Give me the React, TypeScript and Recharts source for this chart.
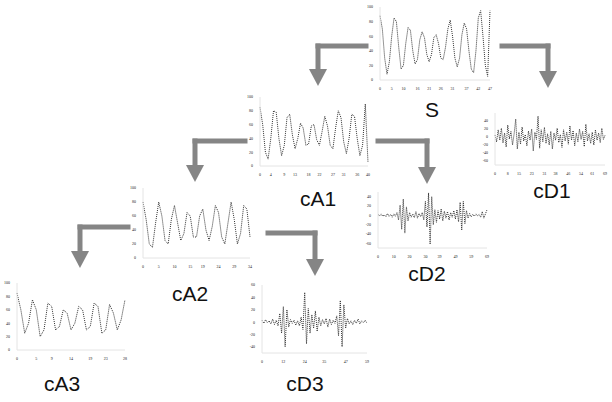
import { LineChart, Line, XAxis, YAxis } from "recharts";

// signal values read off the thumbnails (rough, picture is blurry)
const sSignal = [88, 70, 30, 8, 25, 60, 85, 80, 45, 15, 20, 50, 72, 68, 40, 22, 28, 55, 66, 58, 35, 25, 35, 58, 62, 50, 30, 28, 45, 70, 82, 60, 30, 18, 30, 62, 78, 70, 40, 15, 10, 40, 85, 95, 60, 20, 5, 95];
const cA1Signal = [85, 60, 20, 10, 40, 80, 78, 40, 15, 30, 70, 75, 45, 25, 40, 62, 55, 30, 32, 58, 60, 38, 30, 50, 72, 58, 30, 25, 55, 80, 70, 35, 18, 40, 75, 72, 40, 15, 30, 90, 5];
const cA2Signal = [80, 55, 20, 15, 50, 80, 60, 25, 20, 55, 75, 50, 25, 35, 65, 60, 30, 30, 60, 70, 40, 25, 45, 75, 65, 30, 20, 50, 80, 55, 20, 35, 75, 70, 30];
const cA3Signal = [85, 60, 25, 40, 75, 60, 20, 30, 70, 65, 30, 35, 60, 55, 30, 40, 65, 60, 30, 35, 70, 65, 25, 30, 68, 55, 30, 45, 75];
const cD1Signal = [5, -12, 18, -8, 22, -15, 10, -25, 30, -5, 14, -20, 8, 45, -30, 12, -18, 25, -10, 6, -22, 15, -8, 20, -35, 12, -6, 52, -28, 18, -12, 24, -16, 8, -20, 14, -30, 10, -8, 22, -14, 6, -26, 18, -10, 12, -18, 28, -8, 16, -22, 10, -12, 20, -6, 14, -24, 32, -10, 8, -16, 12, -20, 18, -8, 10, -14, 22, -6, 4];
const cD2Signal = [2, -1, 3, -2, 1, -3, 4, -2, 2, -4, 3, -2, 6, -10, 22, -30, 35, -38, 18, -12, 6, -4, 3, -5, 8, -6, 4, -3, 6, -10, 30, -25, 48, -62, 40, -20, 12, -15, 10, -8, 14, -12, 9, -6, 8, -10, 6, -4, 10, -8, 12, -14, 28, -32, 30, -18, 10, -6, 4, -3, 2, -2, 3, -1, 2, -4, 8, -6, 3, 12];
const cD3Signal = [3, -2, 4, -1, 2, -3, 5, -4, 3, -6, 14, -18, 25, -40, 20, -8, 4, -2, 3, -5, 2, -6, 8, -12, 48, -35, 22, -18, 12, -10, 18, -15, 8, -6, 4, -3, 6, -8, 5, -4, 3, -2, 10, -22, 35, -40, 28, -10, 6, -3, 2, -4, 3, -2, 5, -3, 2, -1, 3, -2];

const approxTicks = [0, 20, 40, 60, 80, 100];
const detailTicks1 = [-60, -40, -20, 0, 20, 40];
const detailTicks2 = [-60, -40, -20, 0, 20, 40];
const detailTicks3 = [-40, -20, 0, 20, 40, 60];

const Y_W = 14;
const TOP = 6;
const RIGHT = 6;
const X_H = 11;

interface MiniProps {
  values: number[];
  px: number;
  py: number;
  pw: number;
  ph: number;
  domain: [number, number];
  yTicks: number[];
  xCount: number;
}

function Mini({ values, px, py, pw, ph, domain, yTicks, xCount }: MiniProps) {
  const data = values.map((v, i) => ({ i, v }));
  const n = values.length - 1;
  // evenly spaced x ticks, like the little dots under each plot
  const xTicks = Array.from({ length: xCount }, (_, k) => Math.round((k * n) / (xCount - 1)));
  return (
    <div style={{ position: "absolute", left: px - Y_W, top: py - TOP }}>
      <LineChart
        width={pw + Y_W + RIGHT}
        height={ph + TOP + X_H}
        data={data}
        margin={{ top: TOP, right: RIGHT, left: 0, bottom: 0 }}
      >
        <XAxis
          dataKey="i"
          type="number"
          domain={[0, n]}
          ticks={xTicks}
          height={X_H}
          tick={{ fontSize: 4, fill: "#222" }}
          tickMargin={1}
          tickLine={false}
          axisLine={{ stroke: "#e4e4e4" }}
          interval={0}
        />
        <YAxis
          domain={domain}
          ticks={yTicks}
          width={Y_W}
          tick={{ fontSize: 4, fill: "#222" }}
          tickMargin={1}
          tickLine={false}
          axisLine={{ stroke: "#e4e4e4" }}
          interval={0}
        />
        <Line
          dataKey="v"
          type="linear"
          stroke="#333"
          strokeWidth={1}
          strokeDasharray="1 1"
          dot={false}
          isAnimationActive={false}
        />
      </LineChart>
    </div>
  );
}

function Arrow({ x1, x2, y, yTip }: { x1: number; x2: number; y: number; yTip: number }) {
  // bar from x1 to x2, then down at x2 to the tip
  const headH = 17;
  const headW = 9;
  return (
    <g fill="#858585" stroke="none">
      <rect x={Math.min(x1, x2) - 2.5} y={y - 2.5} width={Math.abs(x2 - x1) + 5} height={5} />
      <rect x={x2 - 2.5} y={y - 2.5} width={5} height={yTip - headH - y + 3} />
      <polygon points={`${x2 - headW},${yTip - headH} ${x2 + headW},${yTip - headH} ${x2},${yTip}`} />
    </g>
  );
}

const labelStyle: React.CSSProperties = {
  position: "absolute",
  fontFamily: "'Liberation Sans', Arial, sans-serif",
  fontSize: 21,
  color: "#111",
  transform: "translateX(-50%)",
  lineHeight: "22px",
};

export default function App() {
  const labels: [string, number, number][] = [
    ["S", 432, 99],
    ["cD1", 552, 180],
    ["cA1", 318, 188],
    ["cD2", 427, 263],
    ["cA2", 190, 283],
    ["cD3", 305, 373],
    ["cA3", 62, 373],
  ];
  return (
    <div style={{ position: "absolute", left: 0, top: 0, width: 612, height: 402, background: "#fff", overflow: "hidden" }}>
      <Mini values={sSignal} px={380} py={7} pw={110} ph={73} domain={[0, 100]} yTicks={approxTicks} xCount={10} />
      <Mini values={cD1Signal} px={495} py={113} pw={110} ph={52} domain={[-70, 60]} yTicks={detailTicks1} xCount={10} />
      <Mini values={cA1Signal} px={260} py={97} pw={108} ph={69} domain={[0, 100]} yTicks={approxTicks} xCount={10} />
      <Mini values={cD2Signal} px={378} py={192} pw={109} ph={56} domain={[-70, 50]} yTicks={detailTicks2} xCount={8} />
      <Mini values={cA2Signal} px={143} py={188} pw={107} ph={70} domain={[0, 100]} yTicks={approxTicks} xCount={8} />
      <Mini values={cD3Signal} px={262} py={285} pw={105} ph={68} domain={[-50, 60]} yTicks={detailTicks3} xCount={6} />
      <Mini values={cA3Signal} px={17} py={283} pw={108} ph={67} domain={[0, 100]} yTicks={approxTicks} xCount={7} />
      <svg width={612} height={402} style={{ position: "absolute", left: 0, top: 0, pointerEvents: "none" }}>
        <Arrow x1={366} x2={318} y={46} yTip={86} />
        <Arrow x1={502} x2={548} y={46} yTip={88} />
        <Arrow x1={245} x2={195} y={141} yTip={182} />
        <Arrow x1={378} x2={427} y={141} yTip={184} />
        <Arrow x1={128} x2={80} y={227} yTip={268} />
        <Arrow x1={268} x2={315} y={233} yTip={276} />
      </svg>
      {labels.map(([t, x, y]) => (
        <div key={t} style={{ ...labelStyle, left: x, top: y }}>
          {t}
        </div>
      ))}
    </div>
  );
}
